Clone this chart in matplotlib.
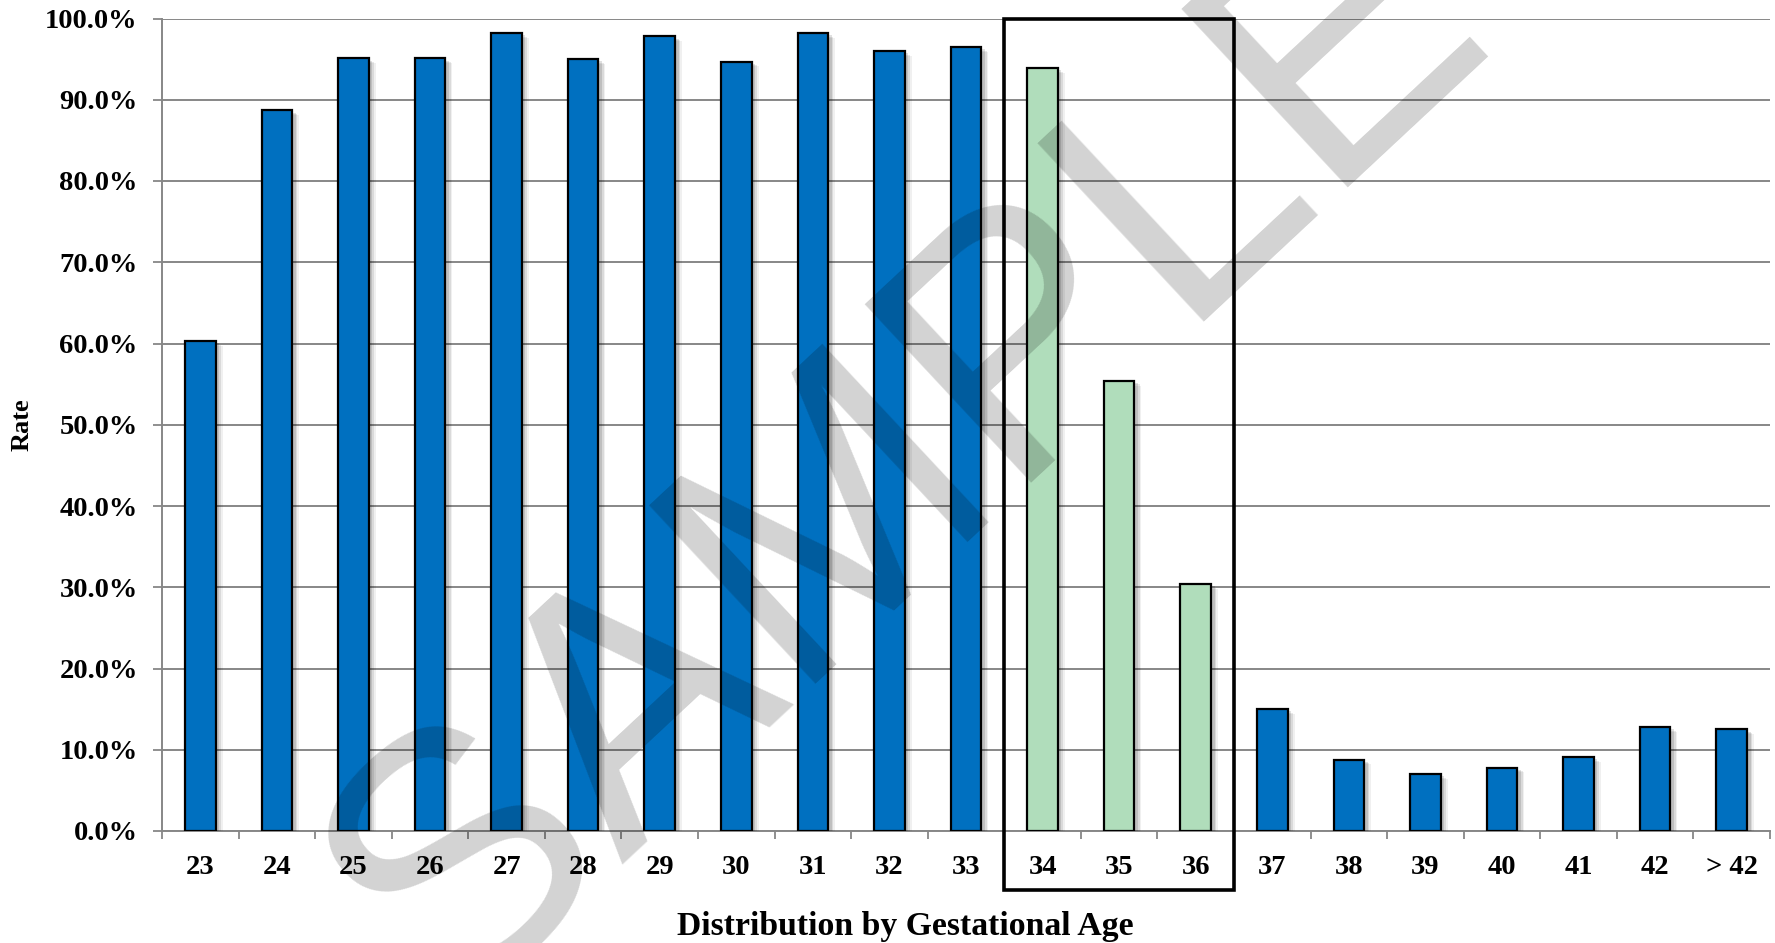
import matplotlib
matplotlib.use("Agg")
import matplotlib.pyplot as plt
from matplotlib import patheffects as pe
from matplotlib.patches import Rectangle
from matplotlib.ticker import FixedLocator, FuncFormatter
import matplotlib.transforms as mtransforms

# ---------------- data ----------------
categories = ["23", "24", "25", "26", "27", "28", "29", "30", "31", "32", "33",
              "34", "35", "36", "37", "38", "39", "40", "41", "42", "> 42"]
rates = [60.3, 88.7, 95.1, 95.1, 98.2, 95.0, 97.8, 94.7, 98.2, 96.0, 96.5,
         93.9, 55.4, 30.4, 15.0, 8.8, 7.0, 7.8, 9.1, 12.8, 12.5]
highlight = ["34", "35", "36"]
y_ticks = [0, 10, 20, 30, 40, 50, 60, 70, 80, 90, 100]
x_title = "Distribution by Gestational Age"
y_title = "Rate"
watermark = "SAMPLE"

# ---------------- style ----------------
BLUE = "#0070C0"
GREEN = "#B0DDBB"
GRID = "#878787"
SERIF = ["Liberation Serif", "DejaVu Serif"]

fig = plt.figure(figsize=(17.75, 9.43), dpi=100)
ax = fig.add_axes([162 / 1775, 112 / 943, (1770 - 162) / 1775, (831 - 18.5) / 943])

x = list(range(len(categories)))
colors = [GREEN if c in highlight else BLUE for c in categories]

shadow = [
    pe.SimplePatchShadow(offset=(5.0, -3.5), shadow_rgbFace="black", alpha=0.06),
    pe.SimplePatchShadow(offset=(3.8, -2.6), shadow_rgbFace="black", alpha=0.09),
    pe.SimplePatchShadow(offset=(2.6, -1.7), shadow_rgbFace="black", alpha=0.12),
    pe.Normal(),
]
bars = ax.bar(x, rates, width=0.4, color=colors, edgecolor="black",
              linewidth=1.6, zorder=3)
for b in bars:
    b.set_path_effects(shadow)

ax.set_xlim(-0.5, len(categories) - 0.5)
ax.set_ylim(y_ticks[0], y_ticks[-1])

ax.yaxis.set_major_locator(FixedLocator(y_ticks))
ax.yaxis.set_major_formatter(FuncFormatter(lambda v, p: f"{v:.1f}%"))
ax.grid(axis="y", color=GRID, linewidth=1.4, zorder=0)
ax.set_axisbelow(True)

ax.set_xticks(x)
ax.set_xticklabels(categories)
ax.set_xticks([i - 0.5 for i in range(len(categories) + 1)], minor=True)
ax.tick_params(axis="x", which="major", length=0, pad=17)
ax.tick_params(axis="x", which="minor", length=6, width=1.3, color=GRID)
ax.tick_params(axis="y", which="major", length=6.5, width=1.3, color=GRID, pad=11)

for lab in ax.get_xticklabels() + ax.get_yticklabels():
    lab.set_fontfamily(SERIF)
    lab.set_fontweight("bold")
    lab.set_fontsize(20.5)

for s in ["top", "right"]:
    ax.spines[s].set_visible(False)
for s in ["left", "bottom"]:
    ax.spines[s].set_color(GRID)
    ax.spines[s].set_linewidth(1.4)

ax.set_ylabel(y_title, fontfamily=SERIF, fontweight="bold", fontsize=19)
ax.yaxis.set_label_coords(-0.080, 0.5)
fig.text(905 / 1775, 1 - 927 / 943, x_title, fontfamily=SERIF, fontweight="bold",
         fontsize=24.3, ha="center", va="center")

# highlight box around 34-36
i0 = categories.index(highlight[0]) - 0.5
i1 = categories.index(highlight[-1]) + 0.5
trans = mtransforms.blended_transform_factory(ax.transData, ax.transAxes)
box = Rectangle((i0, -0.072), i1 - i0, 1.072, transform=trans, fill=False,
                edgecolor="black", linewidth=2.6, clip_on=False, zorder=5)
ax.add_patch(box)

# watermark
fig.text(0.512, 0.515, watermark, fontfamily=["Liberation Sans", "DejaVu Sans"],
         fontsize=255, rotation=43, color="black", alpha=0.175,
         ha="center", va="center", rotation_mode="anchor", zorder=10)

fig.savefig("out.png", dpi=100)
